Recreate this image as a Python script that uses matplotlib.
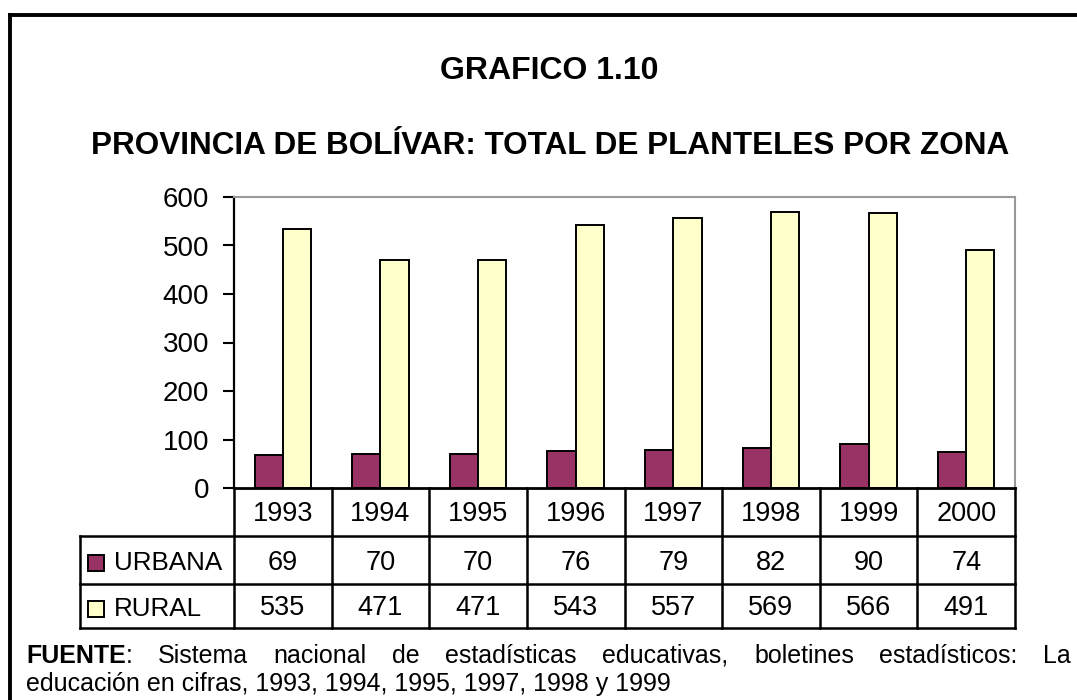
import matplotlib
matplotlib.use("Agg")
import matplotlib.pyplot as plt
from matplotlib.lines import Line2D
from matplotlib.patches import Rectangle
import numpy as np

plt.rcParams['font.family'] = ['Liberation Sans', 'DejaVu Sans']

# Datos
years = ['1993', '1994', '1995', '1996', '1997', '1998', '1999', '2000']
urbana = [69, 70, 70, 76, 79, 82, 90, 74]
rural = [535, 471, 471, 543, 557, 569, 566, 491]
yticks = [0, 100, 200, 300, 400, 500, 600]

col_urbana = '#993366'
col_rural = '#FFFFCC'

W, H = 1077, 700
fig = plt.figure(figsize=(W / 100, H / 100), dpi=100)


def fx(x):
    return x / W


def fy(y):
    return 1 - y / H


# marco exterior
fig.add_artist(Line2D([fx(10), fx(10)], [fy(15), fy(700)], color='black', lw=2.8,
                      solid_capstyle='projecting'))
fig.add_artist(Line2D([fx(10), fx(1077)], [fy(15), fy(15)], color='black', lw=2.8,
                      solid_capstyle='projecting'))

# titulos
fig.text(fx(549), fy(71), 'GRAFICO 1.10', ha='center', va='center',
         fontsize=23, fontweight='bold')
fig.text(fx(550), fy(146), 'PROVINCIA DE BOLÍVAR: TOTAL DE PLANTELES POR ZONA',
         ha='center', va='center', fontsize=22.7, fontweight='bold')

# area del grafico
left, right, top, bottom = 234, 1015, 197, 488
ax = fig.add_axes([fx(left), fy(bottom), fx(right - left), (bottom - top) / H])
x = np.arange(len(years))
bw = 0.29
ax.bar(x - bw / 2, urbana, bw, color=col_urbana, edgecolor='black', lw=1.4)
ax.bar(x + bw / 2, rural, bw, color=col_rural, edgecolor='black', lw=1.4)
ax.set_xlim(-0.5, len(years) - 0.5)
ax.set_ylim(0, 600)
ax.set_yticks(yticks)
ax.set_yticklabels([str(v) for v in yticks], fontsize=20)
ax.tick_params(axis='y', length=8, width=1.5, pad=10)
ax.set_xticks([])
ax.spines['top'].set_color('#999999')
ax.spines['right'].set_color('#999999')
ax.spines['top'].set_linewidth(1.5)
ax.spines['right'].set_linewidth(1.5)
ax.spines['left'].set_linewidth(1.6)
ax.spines['bottom'].set_linewidth(2)

# tabla de datos
cw = (right - left) / len(years)
r0, r1, r2, r3 = 488, 536, 584, 628
tl = 80
for i in range(len(years) + 1):
    xx = left + i * cw
    fig.add_artist(Line2D([fx(xx), fx(xx)], [fy(r0), fy(r3)], color='black', lw=1.8))
fig.add_artist(Line2D([fx(tl), fx(tl)], [fy(r1), fy(r3)], color='black', lw=1.8))
for yy in (r1, r2, r3):
    fig.add_artist(Line2D([fx(tl), fx(right)], [fy(yy), fy(yy)], color='black', lw=1.8))

for i, yr in enumerate(years):
    cx = left + (i + 0.5) * cw
    fig.text(fx(cx), fy((r0 + r1) / 2 + 2), yr, ha='center', va='center', fontsize=19.5)
    fig.text(fx(cx), fy((r1 + r2) / 2 + 3), str(urbana[i]), ha='center', va='center', fontsize=19.5)
    fig.text(fx(cx), fy((r2 + r3) / 2 + 2), str(rural[i]), ha='center', va='center', fontsize=19.5)

for lab, col, (ya, yb) in [('URBANA', col_urbana, (r1, r2)), ('RURAL', col_rural, (r2, r3))]:
    cy = (ya + yb) / 2 + 3
    fig.add_artist(Rectangle((fx(88), fy(cy + 8)), fx(16), 16 / H,
                             facecolor=col, edgecolor='black', lw=1.4))
    fig.text(fx(114), fy(cy), lab, ha='left', va='center', fontsize=18.7)

# fuente (texto justificado)
fig.canvas.draw()
renderer = fig.canvas.get_renderer()
words = ['Sistema', 'nacional', 'de', 'estadísticas', 'educativas,', 'boletines',
         'estadísticos:', 'La']
x0, x1 = 26, 1071
base1 = 656
fs = 18
t = fig.text(fx(x0), fy(base1), 'FUENTE', ha='left', va='center', fontsize=fs,
             fontweight='bold')
wb = t.get_window_extent(renderer).width
t2 = fig.text(fx(x0 + wb), fy(base1), ':', ha='left', va='center', fontsize=fs)
wc = t2.get_window_extent(renderer).width
first_end = x0 + wb + wc
arts = [fig.text(0, fy(base1), w, ha='left', va='center', fontsize=fs) for w in words]
widths = [a.get_window_extent(renderer).width for a in arts]
gap = (x1 - first_end - sum(widths)) / len(words)
pos = first_end + gap
for a, w in zip(arts, widths):
    a.set_x(fx(pos))
    pos += w + gap
fig.text(fx(x0), fy(684), 'educación en cifras, 1993, 1994, 1995, 1997, 1998 y 1999',
         ha='left', va='center', fontsize=fs)

fig.savefig('out.png', dpi=100)
